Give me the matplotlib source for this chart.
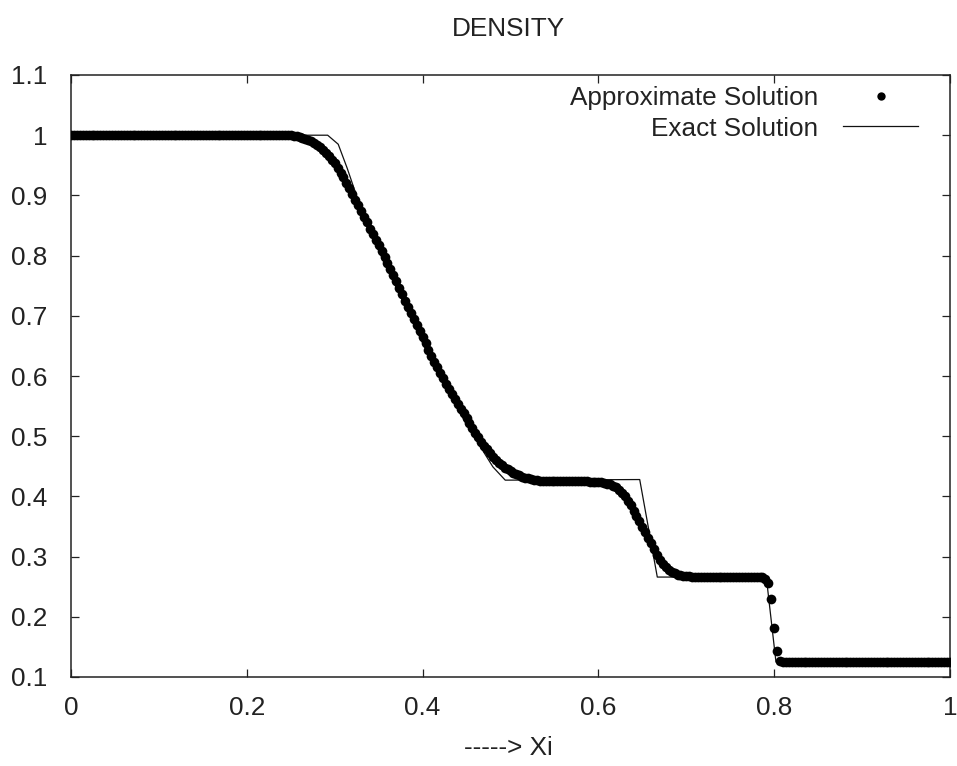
import numpy as np
import matplotlib
matplotlib.use("Agg")
import matplotlib.pyplot as plt
from matplotlib.lines import Line2D

# ---------------- data ----------------
n_cells = 300
approx_x = np.linspace(0.0, 1.0, n_cells + 1)

approx_rho = (
    [1.0] * 76
    + [0.999, 0.998, 0.997, 0.996, 0.994, 0.992, 0.990, 0.987, 0.984, 0.980,
       0.976, 0.971, 0.965, 0.959, 0.953, 0.946, 0.938, 0.930, 0.921, 0.912,
       0.903, 0.893, 0.884, 0.874, 0.864, 0.855, 0.845, 0.836, 0.826, 0.817,
       0.807, 0.798, 0.788, 0.778, 0.767, 0.757, 0.746, 0.736, 0.725, 0.715,
       0.704, 0.694, 0.684, 0.674, 0.664, 0.654, 0.644, 0.634, 0.624, 0.615,
       0.605, 0.596, 0.587, 0.578, 0.570, 0.561, 0.553, 0.545, 0.538, 0.530,
       0.522, 0.514, 0.506, 0.499, 0.491, 0.484, 0.478, 0.472, 0.466, 0.461,
       0.456, 0.452, 0.448, 0.445, 0.442, 0.439, 0.437, 0.435, 0.433, 0.431,
       0.430, 0.429, 0.428, 0.427, 0.426]
    + [0.426] * 8 + [0.425] * 8 + [0.424] * 5 + [0.423]
    + [0.421, 0.420, 0.418, 0.415, 0.411, 0.406, 0.400, 0.393, 0.385, 0.376,
       0.367, 0.359, 0.350, 0.341, 0.331, 0.322, 0.312, 0.302, 0.294, 0.287,
       0.282, 0.277, 0.274, 0.272, 0.270, 0.269, 0.268, 0.268, 0.267]
    + [0.266] * 25
    + [0.263, 0.256, 0.230, 0.181, 0.143, 0.127]
    + [0.125] * 58
)

exact_x = [0.0, 0.292, 0.304, 0.314, 0.328, 0.34, 0.36, 0.38, 0.40, 0.42,
           0.44, 0.454, 0.48, 0.494, 0.647, 0.667, 0.791, 0.802, 1.0]
exact_rho = [1.0, 1.0, 0.985, 0.946, 0.886, 0.840, 0.777, 0.716, 0.655, 0.597,
             0.545, 0.510, 0.449, 0.427, 0.428, 0.266, 0.266, 0.125, 0.125]

x_ticks = [0, 0.2, 0.4, 0.6, 0.8, 1]
x_tick_labels = ["0", "0.2", "0.4", "0.6", "0.8", "1"]
y_ticks = [0.1, 0.2, 0.3, 0.4, 0.5, 0.6, 0.7, 0.8, 0.9, 1.0, 1.1]
y_tick_labels = ["0.1", "0.2", "0.3", "0.4", "0.5", "0.6", "0.7", "0.8", "0.9", "1", "1.1"]

title = "DENSITY"
xlabel = "-----> Xi"
label_approx = "Approximate Solution"
label_exact = "Exact Solution"

# ---------------- figure ----------------
plt.rcParams['font.family'] = ['Liberation Sans', 'DejaVu Sans']
FS = 18.8
TXT = '#222222'
MS = 7.0

fig = plt.figure(figsize=(9.57, 7.66), dpi=100)
ax = fig.add_axes([71 / 957, 1 - 677 / 766, 879 / 957, 602 / 766])

ax.plot(exact_x, exact_rho, color='#111111', lw=0.9, zorder=2)
ax.plot(approx_x, approx_rho, linestyle='none', marker='o', ms=MS,
        mfc='black', mec='black', mew=0, zorder=3)

ax.set_xlim(0, 1)
ax.set_ylim(0.1, 1.1)
ax.set_xticks(x_ticks)
ax.set_xticklabels(x_tick_labels)
ax.set_yticks(y_ticks)
ax.set_yticklabels(y_tick_labels)
ax.tick_params(direction='in', length=6, width=0.9, top=True, right=True,
               labelsize=FS, labelcolor=TXT, color='#222222')
ax.tick_params(axis='y', pad=17)
ax.tick_params(axis='x', pad=14)
for s in ax.spines.values():
    s.set_linewidth(1.1)
    s.set_color('#222222')

fig.text(508 / 957, 1 - 29 / 766, title, ha='center', va='center', fontsize=FS, color=TXT)
fig.text(508 / 957, 1 - 748 / 766, xlabel, ha='center', va='center', fontsize=FS, color=TXT)

handles = [
    Line2D([], [], linestyle='none', marker='o', ms=6.0, mfc='black', mec='black', mew=0),
    Line2D([], [], color='#111111', lw=0.9),
]
leg = ax.legend(handles, [label_approx, label_exact], loc='upper right',
                bbox_to_anchor=((918 - 71) / 879, 1 - (86 - 75) / 602),
                markerfirst=False, frameon=False, fontsize=FS,
                handlelength=2.87, handletextpad=0.95, labelspacing=0.25,
                borderaxespad=0, borderpad=0)
for t in leg.get_texts():
    t.set_color(TXT)

fig.savefig("out.png", dpi=100)
